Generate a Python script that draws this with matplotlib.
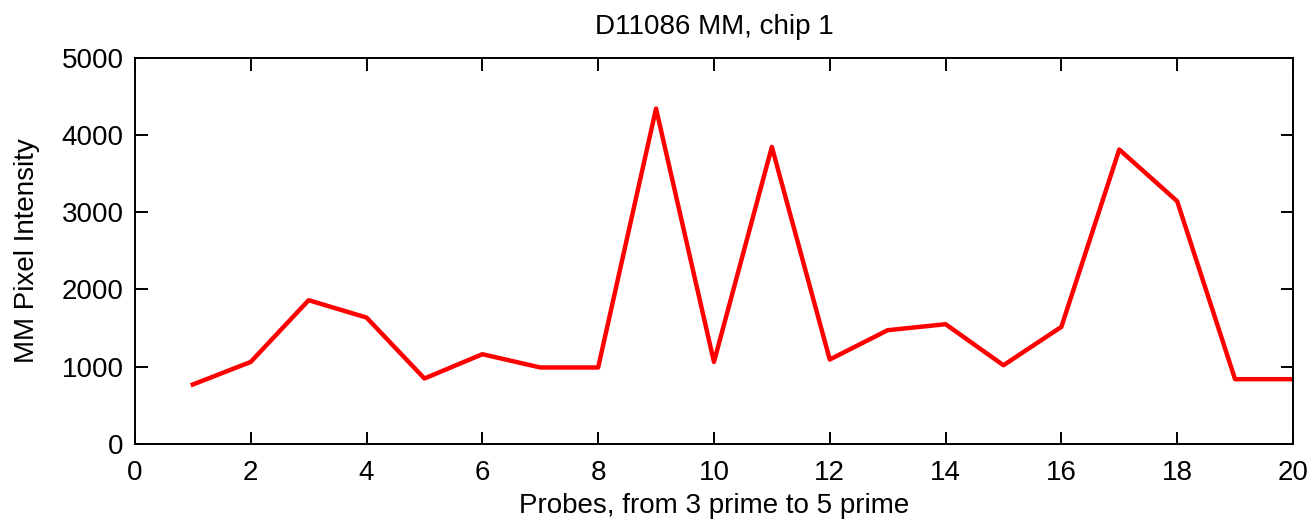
import numpy as np
import matplotlib
matplotlib.use('Agg')
import matplotlib.pyplot as plt

plt.rcParams['font.family'] = ['Liberation Sans', 'DejaVu Sans']

# data to plot
probes = [1, 2, 3, 4, 5, 6, 7, 8, 9, 10, 11, 12, 13, 14, 15, 16, 17, 18, 19, 20]
intensity = [767, 1060, 1860, 1635, 845, 1160, 988, 988, 4344, 1060,
             3847, 1091, 1471, 1549, 1017, 1514, 3813, 3143, 836, 836]
xticks = [0, 2, 4, 6, 8, 10, 12, 14, 16, 18, 20]
yticks = [0, 1000, 2000, 3000, 4000, 5000]

fig = plt.figure(figsize=(13.1, 5.22), dpi=100)
ax = fig.add_axes([0.103, 0.150, 0.884, 0.739])

ax.plot(probes, intensity, color='red', linewidth=3.2)

ax.set_xlim(0, 20)
ax.set_ylim(0, 5000)
ax.set_xticks(xticks)
ax.set_yticks(yticks)
ax.tick_params(direction='in', top=True, right=True, length=9, width=1.4,
               labelsize=20)
ax.tick_params(axis='x', pad=12)
ax.tick_params(axis='y', pad=8)
for s in ax.spines.values():
    s.set_linewidth(1.4)

ax.set_title('D11086 MM, chip 1', fontsize=20, pad=17)
ax.set_xlabel('Probes, from 3 prime to 5 prime', fontsize=20, labelpad=5)
ax.set_ylabel('MM Pixel Intensity', fontsize=20, labelpad=16)

fig.savefig('out.png', dpi=100)
